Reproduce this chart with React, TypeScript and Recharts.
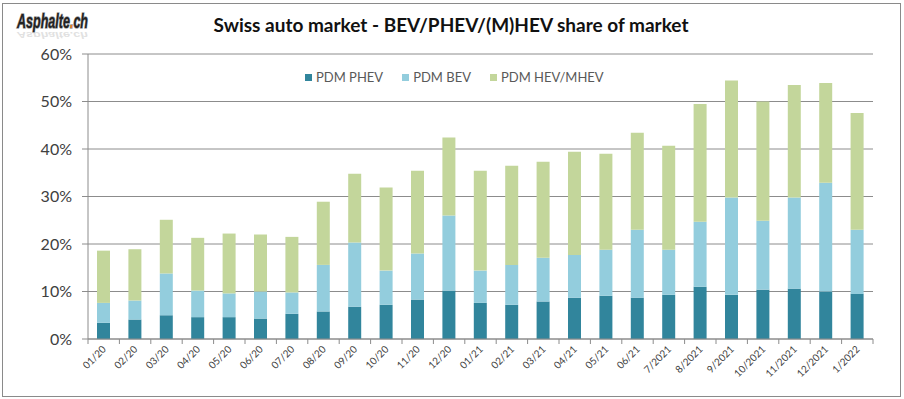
import React from 'react';
import { BarChart, Bar, XAxis, YAxis, CartesianGrid } from 'recharts';

// monthly market share, in %
const months = [
  '01/20', '02/20', '03/20', '04/20', '05/20', '06/20', '07/20', '08/20', '09/20', '10/20', '11/20', '12/20',
  '01/21', '02/21', '03/21', '04/21', '05/21', '06/21', '7/2021', '8/2021', '9/2021', '10/2021', '11/2021', '12/2021', '1/2022',
];
const phev = [3.4, 4.1, 5.0, 4.6, 4.6, 4.3, 5.3, 5.8, 6.8, 7.2, 8.3, 10.2, 7.6, 7.2, 7.9, 8.7, 9.1, 8.7, 9.3, 11.0, 9.3, 10.4, 10.6, 10.0, 9.5];
const bev = [4.2, 4.0, 8.8, 5.6, 5.0, 5.7, 4.5, 9.8, 13.5, 7.2, 9.7, 15.8, 6.8, 8.4, 9.2, 9.0, 9.7, 14.3, 9.5, 13.7, 20.5, 14.5, 19.2, 22.9, 13.5];
const hev = [11.0, 10.8, 11.3, 11.1, 12.6, 12.0, 11.7, 13.3, 14.5, 17.5, 17.4, 16.4, 21.0, 20.9, 20.2, 21.7, 20.2, 20.4, 21.9, 24.8, 24.6, 25.1, 23.7, 21.0, 24.6];
const yTicks = [0, 10, 20, 30, 40, 50, 60];

const seriesKeys = ['phev', 'bev', 'hev'];
const seriesNames = ['PDM PHEV', 'PDM BEV', 'PDM HEV/MHEV'];
const seriesColors = ['#31859c', '#93cddd', '#c3d69b'];

const data = months.map((m, i) => ({ month: m, phev: phev[i], bev: bev[i], hev: hev[i] }));

const FONT = 'Lato, "Open Sans", sans-serif';
const AXIS_GRAY = '#8c8c8c';
const HALF_BAND = 15.7;

function MonthTick(props: any) {
  const { x, y, payload, index } = props;
  return (
    <g>
      <line x1={x - HALF_BAND} y1={y - 8} x2={x - HALF_BAND} y2={y - 3} stroke={AXIS_GRAY} />
      {index === months.length - 1 && (
        <line x1={x + HALF_BAND} y1={y - 8} x2={x + HALF_BAND} y2={y - 3} stroke={AXIS_GRAY} />
      )}
      <text
        x={0}
        y={0}
        transform={`translate(${x + 3},${y + 3}) rotate(-45)`}
        textAnchor="end"
        fontSize={10}
        fill="#404040"
        fontFamily={FONT}
      >
        {payload.value}
      </text>
    </g>
  );
}

export default function App() {
  return (
    <div style={{ position: 'absolute', left: 0, top: 0, width: 904, height: 399, background: '#fff' }}>
      <div style={{ position: 'absolute', left: 2, top: 3, width: 897, height: 392, border: '1px solid #8a8a8a' }} />
      <svg width={120} height={44} style={{ position: 'absolute', left: 0, top: 0 }}>
        <g fontFamily='"Liberation Sans Narrow", "Liberation Sans", sans-serif' fontWeight="bold" fontStyle="italic" fontSize={21}>
          <text x={17} y={-80} transform="scale(1,-0.4)" fill="#c4c4c4" opacity={0.5} textLength={71} lengthAdjust="spacingAndGlyphs">
            Asphalte.ch
          </text>
          <text x={17} y={28} fill="#222" stroke="#9a9a9a" strokeWidth={1.5} paintOrder="stroke" textLength={71} lengthAdjust="spacingAndGlyphs">
            Asphalte<tspan fill="#e07a20">.</tspan>ch
          </text>
        </g>
      </svg>
      <div
        style={{
          position: 'absolute', left: 0, top: 13, width: 902, textAlign: 'center',
          fontFamily: FONT, fontWeight: 'bold', fontSize: 19, color: '#111',
        }}
      >
        Swiss auto market - BEV/PHEV/(M)HEV share of market
      </div>
      <div
        style={{
          position: 'absolute', left: 305, top: 69, display: 'flex', gap: 19,
          fontFamily: FONT, fontSize: 13, color: '#595959',
        }}
      >
        {seriesNames.map((n, i) => (
          <div key={n} style={{ display: 'flex', alignItems: 'center' }}>
            <span style={{ width: 7, height: 7, background: seriesColors[i], marginRight: 4, display: 'inline-block' }} />
            {n}
          </div>
        ))}
      </div>
      <BarChart
        width={904}
        height={399}
        data={data}
        margin={{ top: 54, right: 31, bottom: 0, left: 0 }}
        barSize={13}
        style={{ position: 'absolute', left: 0, top: 0 }}
      >
        <CartesianGrid vertical={false} stroke={AXIS_GRAY} strokeWidth={1} />
        <XAxis
          dataKey="month"
          interval={0}
          height={60}
          tickLine={false}
          axisLine={{ stroke: AXIS_GRAY }}
          tick={<MonthTick />}
        />
        <YAxis
          width={88}
          domain={[0, 60]}
          ticks={yTicks}
          tickFormatter={(v) => `${v}%`}
          axisLine={{ stroke: AXIS_GRAY }}
          tickLine={{ stroke: AXIS_GRAY }}
          tickSize={6}
          tickMargin={10}
          tick={{ fontSize: 16, fill: '#404040', fontFamily: FONT }}
        />
        {seriesKeys.map((k, i) => (
          <Bar key={k} dataKey={k} name={seriesNames[i]} stackId="a" fill={seriesColors[i]} isAnimationActive={false} />
        ))}
      </BarChart>
    </div>
  );
}
